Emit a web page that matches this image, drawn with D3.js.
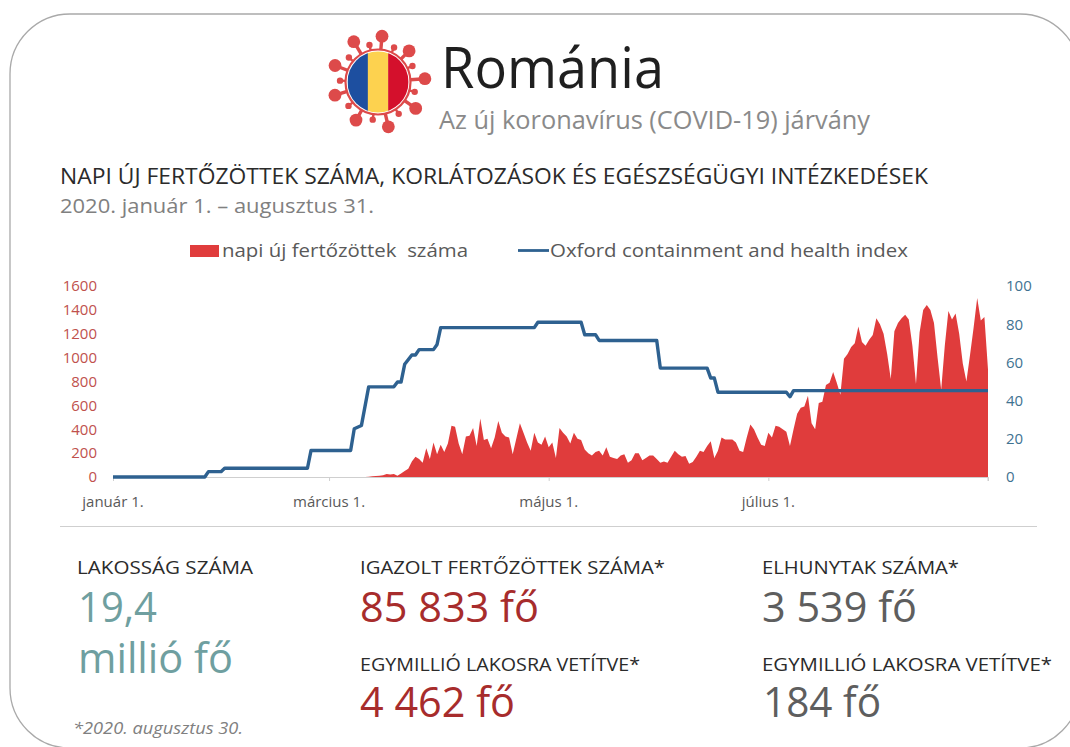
<!DOCTYPE html>
<html lang="hu"><head><meta charset="utf-8">
<script src="https://cdn.jsdelivr.net/npm/d3@7"></script>
<style>html,body{margin:0;padding:0;background:#fff}svg{display:block}text{font-family:"Open Sans","Noto Sans",sans-serif}</style>
</head><body><svg id="c" width="1070" height="747"></svg>
<script>
// --- data ---
const startDate = new Date(2020,0,1);
const firstCaseDay = 70;            // index of the first value in dailyCases
const dailyCases = [0,3,6,9,10,15,25,20,25,10,30,50,70,130,170,150,120,240,150,290,190,270,210,280,430,420,280,190,340,345,410,260,490,310,320,240,330,470,370,340,330,190,320,450,370,290,220,370,290,270,340,250,290,160,410,370,340,280,370,320,310,230,200,180,210,220,180,250,170,160,150,180,190,120,140,200,200,140,160,180,180,150,120,130,120,170,220,190,
170,175,110,125,170,220,210,260,300,160,220,330,315,315,315,290,220,210,330,440,400,330,270,260,370,330,430,420,400,380,260,400,530,580,590,680,450,400,620,630,770,790,880,790,690,990,1030,1090,1120,1260,1130,1100,1150,1190,1330,1280,1200,1030,820,1220,1290,1330,1360,1320,1100,780,1210,1400,1440,1400,1290,1000,730,1100,1390,1320,1370,1200,950,800,1020,1250,1500,1310,1340,900];
const oxfordDays =   [0,25.5,26.5,30,31,54,55,66,67,69,71,78,79,80,81,83,84,85,89,90,91,117,118,130,131,134,135,151,152,165,166,167,168,187,188,189,243];
const oxfordValues = [0,0,2.8,2.8,4.6,4.6,13.9,13.9,25.3,27,47.2,47.2,49.7,49.7,59,63.9,63.9,66.7,66.7,69.4,78.2,78.2,81,81,74.5,74.5,71.5,71.5,57,57,51.8,51.8,44.4,44.4,42,45.2,45.2];
const leftTicks = [0,200,400,600,800,1000,1200,1400,1600];
const rightTicks = [0,20,40,60,80,100];
const xTickDates = [new Date(2020,0,1),new Date(2020,2,1),new Date(2020,4,1),new Date(2020,6,1)];
const xTickLabels = ["január 1.","március 1.","május 1.","július 1."];
const legendLabels = ["napi új fertőzöttek  száma","Oxford containment and health index"];
const bigSpikeAngles = [5,45,86,125,167,210,253,291,329];
const bigSpikeLens   = [46,44,47,46,46,44,45,46,47];
const smallSpikeAngles = [25,65,105,147,188,231,272,310,347];
const flagColors = ["#1d4fa0","#fdd24f","#d4102c"];

// --- colours ---
const RED="#e03c3c",BLUE="#2e6190",REDT="#c0514d",BLUET="#3f7291",DARK="#2b2b2b",GREY="#808080",TEAL="#6f9fa0",BRICK="#a72c2c",SLATE="#5e5e5e";

const svg=d3.select("#c");
const DAY=864e5;
const dateOf=d=>new Date(startDate.getTime()+d*DAY);
const x=d3.scaleTime().domain([startDate,dateOf(243)]).range([113,988]);
const yL=d3.scaleLinear().domain([0,1600]).range([477,286]);
const yR=d3.scaleLinear().domain([0,100]).range([477,286]);

// frame
svg.append("rect").attr("x",10).attr("y",14).attr("width",1070).attr("height",734).attr("rx",60)
  .attr("fill","#fff").attr("stroke","#a9a9a9").attr("stroke-width",1.3);

// text helper: fixed width so the run matches the picture
function T(s,xp,yp,size,fill,w,opt={}){
  const t=svg.append("text").attr("x",xp).attr("y",yp).attr("font-size",size).attr("fill",fill)
    .attr("font-weight",opt.weight||400).text(s).style("white-space","pre");
  if(w){t.attr("textLength",w).attr("lengthAdjust","spacingAndGlyphs");}
  if(opt.italic)t.attr("font-style","italic");
  return t;
}

// logo
const lg=svg.append("g").attr("transform","translate(378,82)");
const rad=a=>(a-90)*Math.PI/180;
bigSpikeAngles.forEach((a,i)=>{
  const r=bigSpikeLens[i],c=Math.cos(rad(a)),s=Math.sin(rad(a));
  lg.append("line").attr("x1",0).attr("y1",0).attr("x2",c*r).attr("y2",s*r).attr("stroke","#dd4a4a").attr("stroke-width",3.4);
  lg.append("circle").attr("cx",c*r).attr("cy",s*r).attr("r",6.4).attr("fill","#dd4a4a");
});
smallSpikeAngles.forEach(a=>{
  const c=Math.cos(rad(a)),s=Math.sin(rad(a));
  lg.append("line").attr("x1",0).attr("y1",0).attr("x2",c*38).attr("y2",s*38).attr("stroke","#dd4a4a").attr("stroke-width",2.4);
  lg.append("circle").attr("cx",c*38).attr("cy",s*38).attr("r",3.2).attr("fill","#dd4a4a");
});
lg.append("circle").attr("r",32.5).attr("fill","#fff").attr("stroke","#dd4a4a").attr("stroke-width",2.2);
lg.append("clipPath").attr("id","flagclip").append("circle").attr("r",30.5);
const flagG=lg.append("g").attr("clip-path","url(#flagclip)");
const fx=d3.scaleBand().domain(d3.range(3)).range([-30.5,30.5]);
flagColors.forEach((c,i)=>flagG.append("rect").attr("x",fx(i)).attr("y",-31).attr("width",fx.bandwidth()+.3).attr("height",62).attr("fill",c));

// titles
T("Románia",441,88,56,"#1f1f1f",223);
T("Az új koronavírus (COVID-19) járvány",439,129,25,"#8a8a8a",431);
T("NAPI ÚJ FERTŐZÖTTEK SZÁMA, KORLÁTOZÁSOK ÉS EGÉSZSÉGÜGYI INTÉZKEDÉSEK",60,184,21.5,DARK,868);
T("2020. január 1. – augusztus 31.",60,213,20,GREY,314);

// legend
svg.append("rect").attr("x",190).attr("y",245).attr("width",29).attr("height",12).attr("fill",RED);
T(legendLabels[0],222,257,19,"#595959",246);
svg.append("line").attr("x1",518).attr("x2",549).attr("y1",250.5).attr("y2",250.5).attr("stroke",BLUE).attr("stroke-width",2.8);
T(legendLabels[1],550,257,19,"#595959",358);

// area
const area=d3.area().x((d,i)=>x(dateOf(firstCaseDay+i))).y0(yL(0)).y1(d=>yL(d));
svg.append("path").datum(dailyCases).attr("d",area).attr("fill",RED);

// axes
const ax=d3.axisBottom(x).tickValues(xTickDates).tickSize(4).tickFormat("");
const gx=svg.append("g").attr("transform",`translate(0,${yL(0)})`).call(ax);
gx.selectAll("path,line").attr("stroke","#cfcfcf");
gx.append("line").attr("x1",988).attr("x2",988).attr("y1",0).attr("y2",4).attr("stroke","#cfcfcf");
xTickDates.forEach((d,i)=>T(xTickLabels[i],x(d),507,15,"#595959").attr("text-anchor","middle"));

const gl=svg.append("g").attr("transform","translate(97,0)").call(d3.axisLeft(yL).tickValues(leftTicks).tickSize(0).tickPadding(0).tickFormat(d3.format("d")));
gl.select(".domain").remove();
gl.selectAll("text").attr("fill",REDT).attr("font-size",15).attr("font-family",'"Open Sans"');
const gr=svg.append("g").attr("transform","translate(1006,0)").call(d3.axisRight(yR).tickValues(rightTicks).tickSize(0).tickPadding(0));
gr.select(".domain").remove();
gr.selectAll("text").attr("fill",BLUET).attr("font-size",15).attr("font-family",'"Open Sans"');

// line
const line=d3.line().x((d,i)=>x(dateOf(d))).y((d,i)=>yR(oxfordValues[i]));
svg.append("path").datum(oxfordDays).attr("d",line).attr("fill","none").attr("stroke",BLUE).attr("stroke-width",3.4).attr("stroke-linejoin","round");

// separator
svg.append("line").attr("x1",60).attr("x2",1037).attr("y1",526.5).attr("y2",526.5).attr("stroke","#cfcfcf");

// stats
const BIG=42;
T("LAKOSSÁG SZÁMA",77,574,17.5,DARK,176);
T("19,4",78,622,BIG,TEAL,79);
T("millió fő",78,673,BIG,TEAL,155);
T("IGAZOLT FERTŐZÖTTEK SZÁMA*",360,574,17.5,DARK,305);
T("85 833 fő",360,622,BIG,BRICK,179);
T("EGYMILLIÓ LAKOSRA VETÍTVE*",360,671,17.5,DARK,280);
T("4 462 fő",360,717,BIG,BRICK,155);
T("ELHUNYTAK SZÁMA*",762,574,17.5,DARK,197);
T("3 539 fő",762,622,BIG,SLATE,155);
T("EGYMILLIÓ LAKOSRA VETÍTVE*",762,671,17.5,DARK,290);
T("184 fő",763,717,BIG,SLATE,118);
T("*2020. augusztus 30.",73,734,17,GREY,170,{italic:true});
</script></body></html>
